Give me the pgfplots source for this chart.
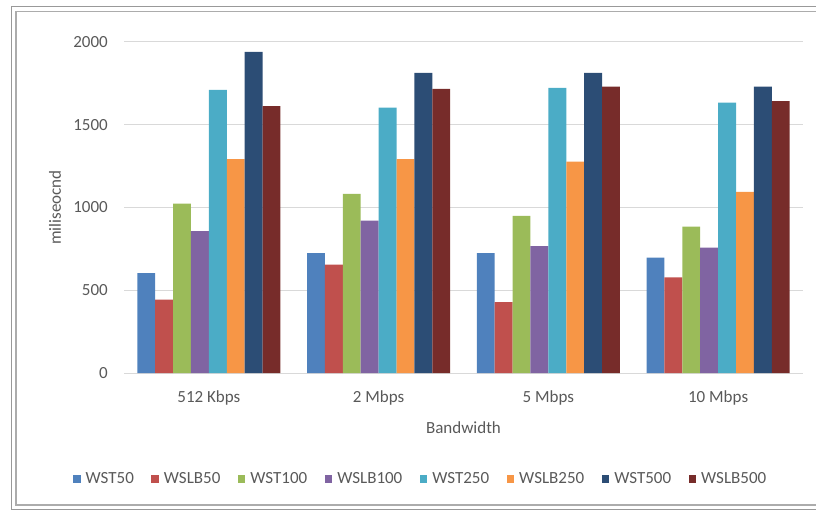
\documentclass[border=0pt]{standalone}
\usepackage{fontspec}
\setmainfont{Carlito}
\usepackage{pgfplots}
\pgfplotsset{compat=1.18}

\definecolor{cWSTa}{HTML}{4F81BD}
\definecolor{cWSLBa}{HTML}{C0504D}
\definecolor{cWSTb}{HTML}{9BBB59}
\definecolor{cWSLBb}{HTML}{8064A2}
\definecolor{cWSTc}{HTML}{4BACC6}
\definecolor{cWSLBc}{HTML}{F79646}
\definecolor{cWSTd}{HTML}{2C4D75}
\definecolor{cWSLBd}{HTML}{772C2A}
\definecolor{txt}{HTML}{595959}
\definecolor{grid}{HTML}{D9D9D9}

\begin{document}
\begin{tikzpicture}
\fontsize{17}{20}\selectfont
% outer frame (double line, right edge off the picture)
\draw[color=gray!80, line width=1.8pt] (11.5pt,2.5pt) rectangle (840pt,505.5pt);
\draw[color=gray!65, line width=1.1pt] (16pt,7pt) rectangle (835pt,500.5pt);
\begin{axis}[
    at={(124pt,139pt)}, anchor=south west,
    scale only axis,
    width=679pt, height=331pt,
    ybar=0pt, bar width=17.9pt,
    xmin=-0.5, xmax=3.5,
    ymin=0, ymax=2000,
    enlargelimits=false,
    xtick=data,
    xticklabels={512 Kbps, 2 Mbps, 5 Mbps, 10 Mbps},
    ytick={0,500,...,2000},
    major tick length=0pt,
    axis line style={draw=none},
    ymajorgrids,
    grid style={color=grid, line width=1pt},
    /pgf/number format/assume math mode=true,
    /pgf/number format/1000 sep={},
    ticklabel style={color=txt, font=\fontsize{17}{20}\selectfont},
    xticklabel style={inner sep=0pt, anchor=base, yshift=-29pt},
    yticklabel style={inner sep=0pt, anchor=east, xshift=-16pt},
    xlabel={Bandwidth},
    ylabel={miliseocnd},
    label style={color=txt, font=\fontsize{17}{20}\selectfont},
    xlabel style={at={(axis description cs:0.5,0)}, anchor=base, yshift=-60pt},
    ylabel style={at={(axis description cs:-0.1016,0.5)}, anchor=center},
    legend columns=8,
    legend style={draw=none, fill=none, at={(axis description cs:0.437,-0.32)},
        anchor=center, font=\fontsize{17}{20}\selectfont, text=txt,
        /tikz/every odd column/.append style={column sep=3pt},
        /tikz/every even column/.append style={column sep=15.5pt}},
    legend image code/.code={\fill[#1] (0pt,-4pt) rectangle (7.5pt,3.5pt);},
]
\addplot[fill=cWSTa, draw=none] coordinates {(0,604) (1,725) (2,725) (3,697)};
\addplot[fill=cWSLBa, draw=none] coordinates {(0,444) (1,655) (2,428) (3,578)};
\addplot[fill=cWSTb, draw=none] coordinates {(0,1024) (1,1083) (2,949) (3,885)};
\addplot[fill=cWSLBb, draw=none] coordinates {(0,857) (1,921) (2,766) (3,758)};
\addplot[fill=cWSTc, draw=none] coordinates {(0,1711) (1,1604) (2,1723) (3,1634)};
\addplot[fill=cWSLBc, draw=none] coordinates {(0,1293) (1,1293) (2,1277) (3,1095)};
\addplot[fill=cWSTd, draw=none] coordinates {(0,1941) (1,1814) (2,1814) (3,1731)};
\addplot[fill=cWSLBd, draw=none] coordinates {(0,1612) (1,1717) (2,1731) (3,1642)};
\legend{WST50, WSLB50, WST100, WSLB100, WST250, WSLB250, WST500, WSLB500}
\end{axis}
\pgfresetboundingbox
\useasboundingbox (0pt,0pt) rectangle (816pt,512pt);
\end{tikzpicture}
\end{document}
